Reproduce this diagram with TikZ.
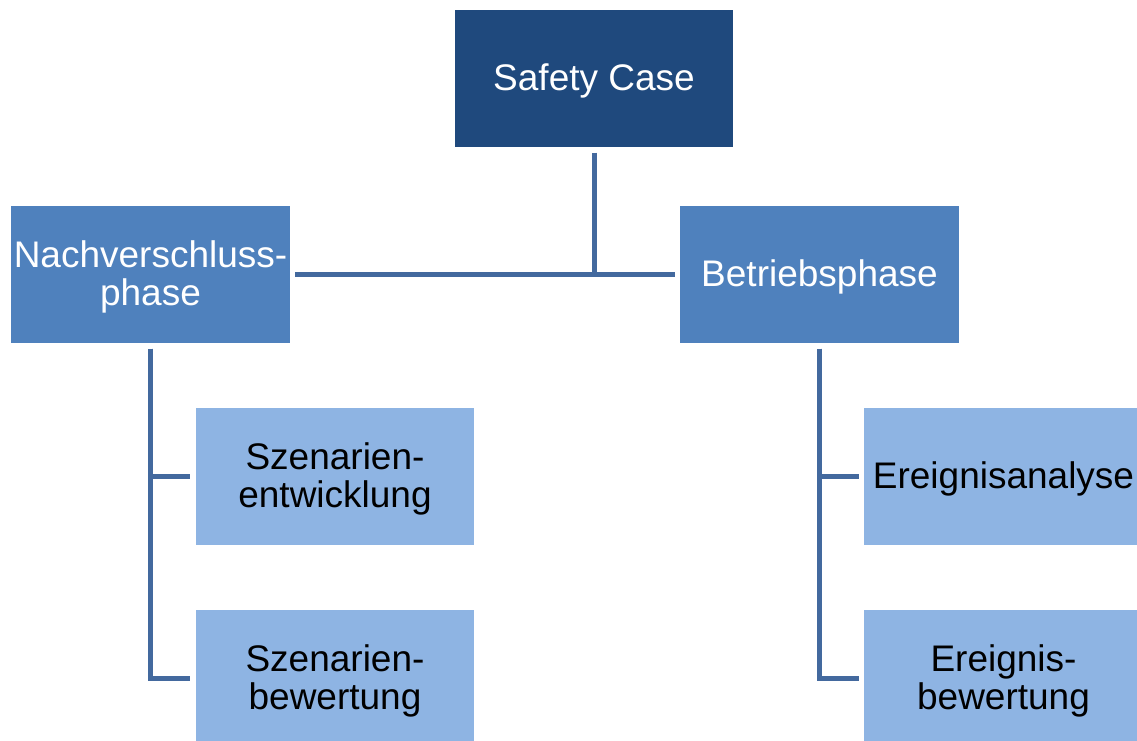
\documentclass[tikz,border=0pt]{standalone}
\usepackage{fontspec}
\setmainfont{Liberation Sans}
\definecolor{topblue}{HTML}{1F497D}
\definecolor{midblue}{HTML}{4F81BD}
\definecolor{lightblue}{HTML}{8EB4E3}
\definecolor{linkblue}{HTML}{43699E}
\tikzset{
  box/.style={rectangle, minimum width=278.5pt, minimum height=137pt,
    inner sep=0pt, outer sep=5.5pt,
    label={[boxtext, text=#1]center:\boxlabel}},
  boxtext/.style={inner sep=0pt, yshift=-2.5pt, align=center,
    font=\fontsize{37}{37.5}\selectfont},
  topbox/.style={fill=topblue, box=white},
  phasebox/.style={fill=midblue, box=white},
  taskbox/.style={fill=lightblue, box=black},
  conn/.style={draw=linkblue, line width=5pt, line join=miter}
}
\newcommand\boxlabel{}
\newcommand\setlabel[1]{\renewcommand\boxlabel{#1}}
\begin{document}
\begin{tikzpicture}[x=1pt, y=-1pt]
  \useasboundingbox (0,0) rectangle (1137,740);
  \clip (0,0) rectangle (1137,740);

  % root
  \setlabel{Safety Case}
  \node[topbox] (sc) at (594,78.5) {};

  % phases
  \setlabel{Nachverschluss-\\phase}
  \node[phasebox] (np) at (150.5,274.5) {};
  \setlabel{Betriebsphase}
  \node[phasebox] (bp) at (819.5,274.5) {};

  % tasks
  \setlabel{Szenarien-\\entwicklung}
  \node[taskbox] (se) at (335,476.5) {};
  \setlabel{Szenarien-\\bewertung}
  \node[taskbox] (sb) at (335,678.5) {};
  \setlabel{Ereignisanalyse}
  \node[taskbox] (ea) at (1003.5,476.5) {};
  \setlabel{Ereignis-\\bewertung}
  \node[taskbox] (eb) at (1003.5,678.5) {};

  % hierarchy links
  \draw[conn] (sc.south) -- (sc.south |- np.east);
  \draw[conn] (np.east) -- (bp.west);
  \draw[conn] (np.south) |- (se.west);
  \draw[conn] (np.south) |- (sb.west);
  \draw[conn] (bp.south) |- (ea.west);
  \draw[conn] (bp.south) |- (eb.west);
\end{tikzpicture}
\end{document}
